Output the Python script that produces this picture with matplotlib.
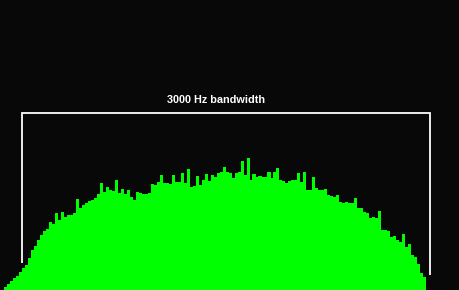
import numpy as np
import matplotlib
matplotlib.use("Agg")
import matplotlib.pyplot as plt

# Spectrum: bin centre frequencies (Hz) and levels (arbitrary units, 0 = floor)
freq_start_hz = 180
freq_step_hz = 22
levels = [
    3, 6, 9, 12, 14, 18, 22, 25, 32, 40, 44, 50, 55, 59, 61, 68, 66, 77, 70, 78,
    73, 75, 75, 77, 91, 82, 85, 87, 89, 90, 92, 96, 107, 98, 103, 100, 99, 110, 97, 101,
    96, 100, 93, 90, 98, 97, 96, 96, 97, 106, 105, 108, 115, 107, 107, 106, 115, 108, 108, 117,
    107, 121, 103, 104, 114, 105, 110, 116, 109, 115, 113, 117, 118, 123, 118, 117, 112, 117, 118, 129,
    115, 132, 110, 116, 113, 114, 113, 113, 118, 112, 118, 122, 110, 109, 107, 109, 110, 110, 117, 108,
    118, 100, 100, 113, 102, 100, 100, 101, 95, 94, 93, 95, 88, 87, 88, 87, 87, 92, 82, 82,
    78, 77, 72, 73, 72, 79, 60, 60, 59, 53, 54, 50, 48, 56, 43, 46, 35, 33, 26, 17,
    13,
]
freqs = freq_start_hz + freq_step_hz * np.arange(len(levels))

band_low_hz, band_high_hz = 300, 3300
title = "3000 Hz bandwidth"

bg = "#080808"
fig = plt.figure(figsize=(4.6, 2.9), dpi=100, facecolor=bg)
ax = fig.add_axes([0, 0, 1, 1], facecolor=bg)

hz_per_px = (band_high_hz - band_low_hz) / 408.0
ax.set_xlim(band_low_hz - 22 * hz_per_px, band_low_hz + 438 * hz_per_px)
ax.set_ylim(0, 290)

ax.bar(freqs, levels, width=freq_step_hz * 1.02, color="#00ff00", edgecolor="none",
       linewidth=0, align="center")

# bandwidth bracket
ax.plot([band_low_hz, band_low_hz, band_high_hz, band_high_hz], [27, 177, 177, 15],
        color="white", lw=1.3, solid_capstyle="butt", solid_joinstyle="miter")
ax.text((band_low_hz + band_high_hz) / 2 - 10 * hz_per_px, 190, title, color="white",
        fontsize=7.8, fontweight="bold", family=["Liberation Sans", "DejaVu Sans"],
        ha="center", va="center")

ax.axis("off")
fig.savefig("out.png", dpi=100, facecolor=bg)
